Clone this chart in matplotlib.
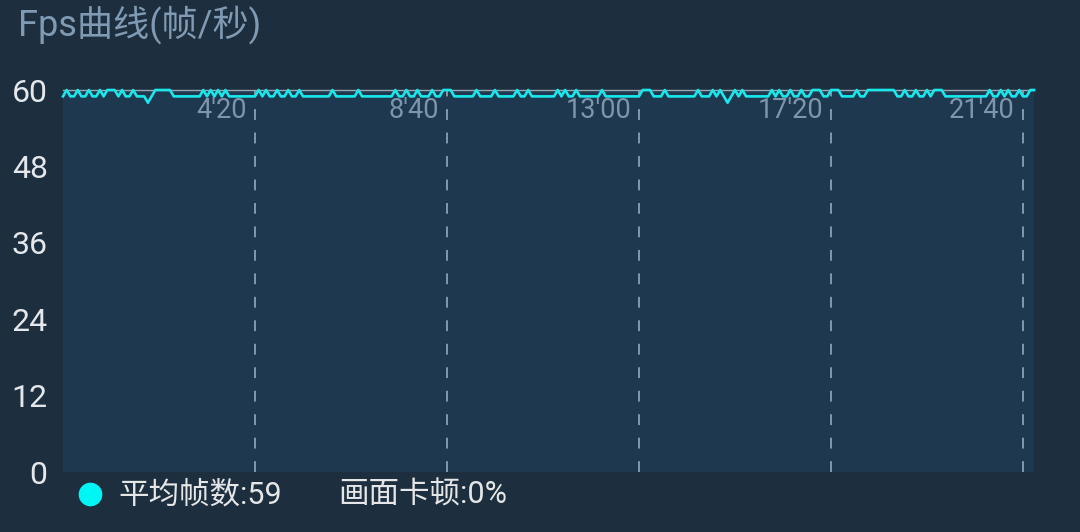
import numpy as np
import matplotlib
matplotlib.use("Agg")
import matplotlib.pyplot as plt
from matplotlib import transforms

# fps samples, one every 5 seconds
fps = [
    59, 60, 59, 59, 60, 59, 59, 60, 59, 59, 60, 59, 60, 60, 60, 59, 60, 59, 59, 60,
    59, 59, 59, 58, 59, 60, 60, 60, 60, 60, 59, 59, 59, 59, 59, 59, 59, 59, 60, 59,
    60, 59, 60, 59, 60, 59, 59, 59, 59, 59, 59, 59, 59, 60, 59, 60, 59, 59, 60, 59,
    59, 60, 59, 59, 60, 59, 59, 59, 59, 59, 59, 59, 59, 60, 59, 59, 59, 59, 59, 59,
    60, 59, 59, 59, 59, 59, 59, 59, 59, 59, 60, 59, 59, 60, 59, 59, 60, 59, 59, 59,
    60, 59, 59, 60, 60, 60, 59, 59, 59, 59, 59, 59, 60, 59, 59, 59, 59, 60, 59, 59,
    59, 59, 59, 60, 59, 59, 60, 59, 59, 59, 59, 59, 59, 59, 60, 59, 60, 59, 59, 60,
    59, 59, 59, 59, 59, 59, 60, 59, 59, 59, 59, 59, 59, 59, 59, 59, 59, 60, 60, 60,
    59, 59, 59, 60, 59, 59, 59, 59, 59, 59, 59, 59, 60, 59, 59, 59, 60, 59, 60, 59,
    58, 59, 60, 59, 60, 59, 59, 59, 59, 59, 59, 59, 60, 59, 60, 59, 59, 60, 59, 59,
    60, 59, 59, 60, 60, 60, 59, 59, 60, 60, 60, 59, 59, 59, 59, 60, 59, 59, 60, 60,
    60, 60, 60, 60, 60, 60, 59, 59, 60, 59, 59, 60, 59, 59, 60, 59, 60, 60, 60, 59,
    59, 59, 59, 59, 59, 59, 59, 59, 59, 59, 59, 60, 59, 59, 60, 59, 60, 59, 59, 60,
    59, 59, 60, 60,
]
step_s = 5
seconds = np.arange(len(fps)) * step_s

y_ticks = [0, 12, 24, 36, 48, 60]
x_ticks = [260, 520, 780, 1040, 1300]
x_labels = ["4'20", "8'40", "13'00", "17'20", "21'40"]

title = "Fps曲线(帧/秒)"
legend_avg = "平均帧数:59"
legend_jank = "画面卡顿:0%"

bg = "#1d2f3e"
panel = "#1e3850"
cyan = "#18e8ea"
grid_col = "#8aa0b4"
fonts = ["Roboto", "Noto Sans CJK SC", "DejaVu Sans"]

fig = plt.figure(figsize=(10.8, 5.32), dpi=100, facecolor=bg)
ax = fig.add_axes([63 / 1080, 60 / 532, 971 / 1080, 382 / 532])
ax.set_facecolor(panel)
for s in ax.spines.values():
    s.set_visible(False)

ax.set_xlim(0, seconds[-1])
ax.set_ylim(0, 60)

# top reference line at 60
ax.axhline(60, color="#9aa6b2", lw=1.0, zorder=2, clip_on=False)

# dashed vertical markers + labels
off = transforms.ScaledTranslation(-8 / 100, 0, fig.dpi_scale_trans)
for t, lab in zip(x_ticks, x_labels):
    ax.plot([t, t], [0, 60], color=grid_col, lw=1.3, ls=(0, (6, 7)), zorder=1)
    ax.text(t, 0.947, lab, transform=ax.get_xaxis_transform() + off,
            ha="right", va="center", color="#7f95aa", fontsize=19.5, family=fonts)

ax.plot(seconds, fps, color=cyan, lw=1.9, zorder=3, clip_on=False)

ax.set_xticks([])
ax.set_yticks(y_ticks)
ax.set_yticklabels([str(v) for v in y_ticks], family=fonts, fontsize=23, color="#e4e8ec")
ax.tick_params(axis="y", length=0, pad=11)

fig.text(18 / 1080, 1 - 25 / 532, title, ha="left", va="center",
         color="#7f9ab2", fontsize=26, family=fonts)

# legend row
ax_leg = fig.add_axes([0, 0, 1, 1], facecolor="none")
ax_leg.set_xlim(0, 1080)
ax_leg.set_ylim(532, 0)
ax_leg.axis("off")
ax_leg.scatter([90], [494], s=290, color="#00f5f5", linewidths=0, zorder=3)
ax_leg.text(118, 495, legend_avg, ha="left", va="center", color="#e4e6e8",
            fontsize=22, family=fonts)
ax_leg.text(338, 495, legend_jank, ha="left", va="center", color="#e4e6e8",
            fontsize=22, family=fonts)

fig.savefig("out.png", dpi=100, facecolor=bg)
